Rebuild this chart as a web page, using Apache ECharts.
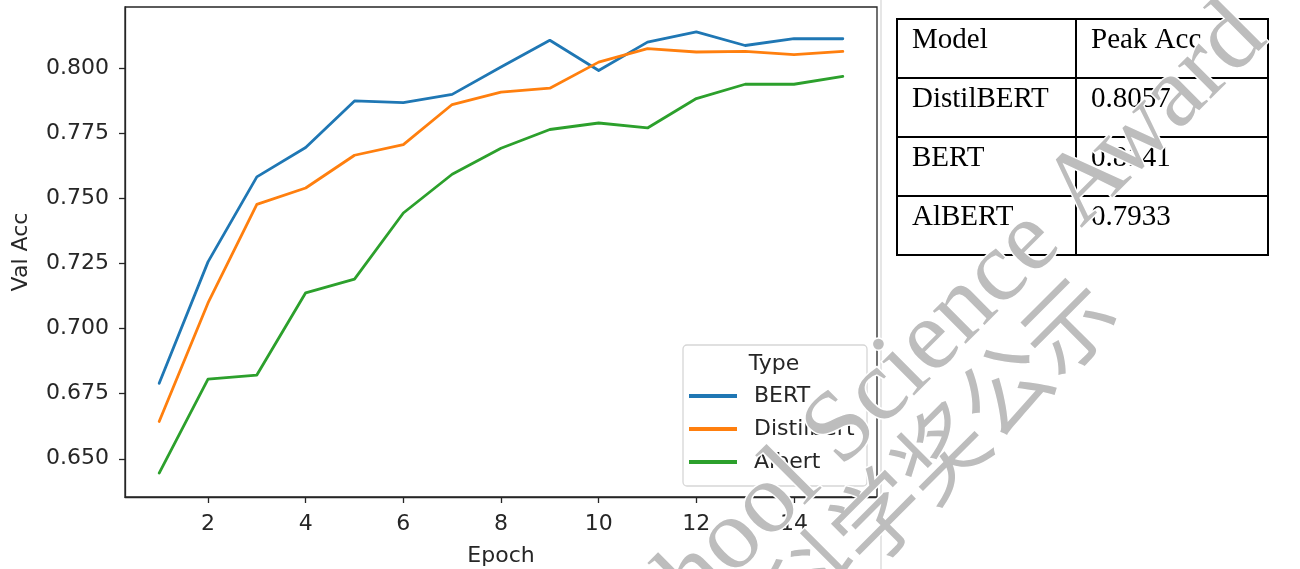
<!DOCTYPE html>
<html>
<head>
<meta charset="utf-8">
<script src="https://cdn.jsdelivr.net/npm/echarts@6/dist/echarts.min.js"></script>
<style>
  html, body { margin: 0; padding: 0; background: #fff; }
  #chart { width: 1300px; height: 569px; }
</style>
</head>
<body>
<div id="chart"></div>
<script>
// Validation accuracy per epoch for each model type
const epochs = [1, 2, 3, 4, 5, 6, 7, 8, 9, 10, 11, 12, 13, 14, 15];
const bertAcc = [0.6790, 0.7257, 0.7584, 0.7697, 0.7876, 0.7869, 0.7901, 0.8006, 0.8109, 0.7993, 0.8102, 0.8141, 0.8089, 0.8115, 0.8115];
const distilbertAcc = [0.6643, 0.7099, 0.7478, 0.7541, 0.7667, 0.7708, 0.7862, 0.7910, 0.7925, 0.8025, 0.8077, 0.8064, 0.8066, 0.8054, 0.8066];
const albertAcc = [0.6445, 0.6806, 0.6822, 0.7138, 0.7191, 0.7445, 0.7594, 0.7694, 0.7766, 0.7791, 0.7772, 0.7885, 0.7940, 0.7940, 0.7970];

const seriesNames = ['BERT', 'Distilbert', 'Albert'];
const seriesColors = ['#1f77b4', '#ff7f0e', '#2ca02c'];

const xTicks = [2, 4, 6, 8, 10, 12, 14];
const yTicks = [0.650, 0.675, 0.700, 0.725, 0.750, 0.775, 0.800];

// Summary table
const tableHeader = ['Model', 'Peak Acc'];
const tableModels = ['DistilBERT', 'BERT', 'AlBERT'];
const tablePeakAcc = [0.8057, 0.8141, 0.7933];

const AXIS_COLOR = '#262626';
const AXIS_FONT = 'DejaVu Sans';
const AXIS_SIZE = 22;

const chart = echarts.init(document.getElementById('chart'), null, { renderer: 'canvas' });

const toPairs = (vals) => epochs.map((e, i) => [e, vals[i]]);
const seriesData = [bertAcc, distilbertAcc, albertAcc];

// Table geometry
const tbl = { left: 897, mid: 1076, right: 1268, top: 19, rowH: 59 };
const tableRows = [tableHeader].concat(tableModels.map((m, i) => [m, tablePeakAcc[i].toFixed(4)]));
const tableGraphics = [];
const nRows = tableRows.length;
tableGraphics.push({
  type: 'rect', z: 10,
  shape: { x: tbl.left, y: tbl.top, width: tbl.right - tbl.left, height: tbl.rowH * nRows },
  style: { fill: '#fff', stroke: '#000', lineWidth: 2 }
});
for (let r = 1; r < nRows; r++) {
  tableGraphics.push({
    type: 'line', z: 11,
    shape: { x1: tbl.left, y1: tbl.top + r * tbl.rowH, x2: tbl.right, y2: tbl.top + r * tbl.rowH },
    style: { stroke: '#000', lineWidth: 2 }
  });
}
tableGraphics.push({
  type: 'line', z: 11,
  shape: { x1: tbl.mid, y1: tbl.top, x2: tbl.mid, y2: tbl.top + tbl.rowH * nRows },
  style: { stroke: '#000', lineWidth: 2 }
});
tableRows.forEach((row, r) => {
  [tbl.left, tbl.mid].forEach((cx, c) => {
    tableGraphics.push({
      type: 'text', z: 12,
      x: cx + 15, y: tbl.top + r * tbl.rowH + 7,
      style: {
        text: row[c], fill: '#000',
        font: '29px "Liberation Serif", "Times New Roman", serif',
        textAlign: 'left', textVerticalAlign: 'top'
      }
    });
  });
});

// Overlay stamp text, drawn with a thin white halo then grey fill
function stampText(text, x, y, rot, font, align) {
  const base = { type: 'text', x: x, y: y, rotation: rot, silent: true };
  const common = { text: text, font: font, textAlign: align, textVerticalAlign: 'middle' };
  return [
    Object.assign({}, base, { z: 100, style: Object.assign({ fill: '#fff', stroke: '#fff', lineWidth: 3 }, common) }),
    Object.assign({}, base, { z: 101, style: Object.assign({ fill: '#bdbdbd' }, common) })
  ];
}

const option = {
  backgroundColor: '#fff',
  animation: false,
  grid: {
    left: 125, top: 7, width: 752, height: 490,
    outerBoundsMode: 'none', containLabel: false,
    show: true, borderColor: AXIS_COLOR, borderWidth: 1.3, backgroundColor: 'transparent'
  },
  xAxis: {
    type: 'value', min: 0.3, max: 15.7,
    name: 'Epoch', nameLocation: 'middle', nameGap: 48,
    nameTextStyle: { fontFamily: AXIS_FONT, fontSize: AXIS_SIZE, color: AXIS_COLOR },
    axisLine: { show: true, lineStyle: { color: AXIS_COLOR, width: 1.3 } },
    axisTick: { show: true, customValues: xTicks, length: 6, lineStyle: { color: AXIS_COLOR, width: 1.3 } },
    axisLabel: { customValues: xTicks, fontFamily: AXIS_FONT, fontSize: AXIS_SIZE, color: AXIS_COLOR, margin: 16 },
    splitLine: { show: false }
  },
  yAxis: {
    type: 'value', min: 0.6353, max: 0.8237,
    name: 'Val Acc', nameLocation: 'middle', nameGap: 93, nameRotate: 90,
    nameTextStyle: { fontFamily: AXIS_FONT, fontSize: AXIS_SIZE, color: AXIS_COLOR },
    axisLine: { show: true, lineStyle: { color: AXIS_COLOR, width: 1.3 } },
    axisTick: { show: true, customValues: yTicks, length: 6, lineStyle: { color: AXIS_COLOR, width: 1.3 } },
    axisLabel: {
      customValues: yTicks, fontFamily: AXIS_FONT, fontSize: AXIS_SIZE, color: AXIS_COLOR, margin: 16,
      formatter: (v) => Number(v).toFixed(3)
    },
    splitLine: { show: false }
  },
  legend: {
    orient: 'vertical', left: 684, top: 380,
    data: seriesNames,
    icon: 'rect', itemWidth: 48, itemHeight: 4, itemGap: 11,
    textStyle: { fontFamily: AXIS_FONT, fontSize: AXIS_SIZE, color: AXIS_COLOR, padding: [0, 0, 0, 12] },
    selectedMode: false, z: 20
  },
  series: seriesNames.map((name, i) => ({
    name: name, type: 'line', data: toPairs(seriesData[i]),
    showSymbol: false, symbol: 'none',
    lineStyle: { color: seriesColors[i], width: 2.8, join: 'round', cap: 'round' },
    itemStyle: { color: seriesColors[i] },
    z: 5 + i
  })),
  graphic: [
    {
      type: 'line', z: 1, silent: true,
      shape: { x1: 881, y1: 0, x2: 881, y2: 569 },
      style: { stroke: '#e6e6e6', lineWidth: 2 }
    },
    {
      type: 'rect', z: 15, silent: true,
      shape: { x: 683, y: 345, width: 184, height: 141, r: 4 },
      style: { fill: 'rgba(255,255,255,0.8)', stroke: '#d6d6d6', lineWidth: 1.3 }
    },
    {
      type: 'text', z: 16, silent: true,
      x: 774, y: 364,
      style: { text: 'Type', font: AXIS_SIZE + 'px "DejaVu Sans"', fill: AXIS_COLOR, textAlign: 'center', textVerticalAlign: 'middle' }
    }
  ].concat(tableGraphics)
   .concat(stampText('School Science Award', 1250, 22, Math.PI / 4, '101px "Liberation Serif", serif', 'right'))
   .concat(stampText('科学奖公示', 940, 452, Math.PI / 4, '90px "Noto Sans CJK SC", sans-serif', 'center'))
};

chart.setOption(option);
</script>
</body>
</html>
